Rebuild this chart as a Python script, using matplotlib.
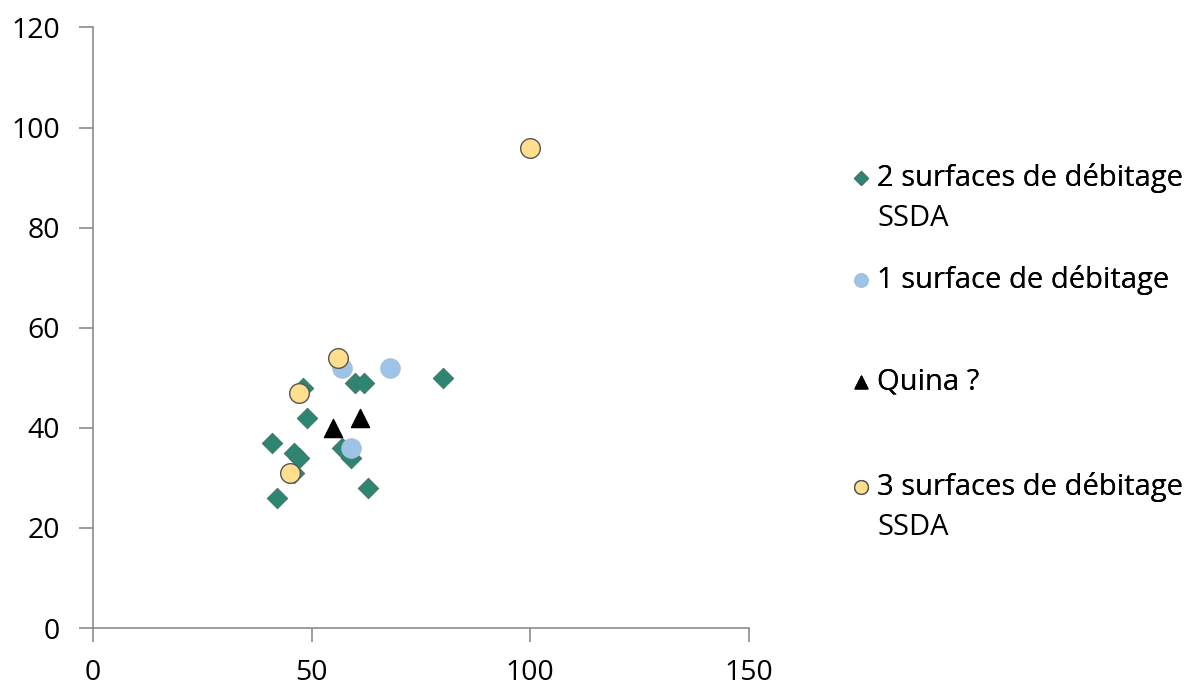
import matplotlib.pyplot as plt

plt.rcParams['font.family'] = ['Open Sans', 'DejaVu Sans']

two_x = [80, 60, 62, 48, 49, 41, 46, 47, 57, 59, 46, 63, 42]
two_y = [50, 49, 49, 48, 42, 37, 35, 34, 36, 34, 31, 28, 26]
one_x = [57, 68, 59]
one_y = [52, 52, 36]
quina_x = [55, 61]
quina_y = [40, 42]
three_x = [100, 56, 47, 45]
three_y = [96, 54, 47, 31]

labels = ['2 surfaces de débitage', '1 surface de débitage', 'Quina ?',
          '3 surfaces de débitage']
second_lines = ['SSDA', None, None, 'SSDA']

fig = plt.figure(figsize=(11.94, 6.86), dpi=100)
ax = fig.add_axes([0.078, 0.0845, 0.549, 0.8755])

h1 = ax.scatter(two_x, two_y, marker='D', s=110, c='#2E8572', edgecolors='#4a6e66', linewidths=0.6, zorder=3)
h2 = ax.scatter(one_x, one_y, marker='o', s=200, c='#9DC3E6', edgecolors='#a9bfd3', linewidths=0.6, zorder=3)
h3 = ax.scatter(quina_x, quina_y, marker='^', s=170, c='black', zorder=3)
h4 = ax.scatter(three_x, three_y, marker='o', s=200, c='#FFDF8E', edgecolors='#555555', linewidths=1.0, zorder=4)

ax.set_xlim(0, 150)
ax.set_ylim(0, 120)
ax.set_xticks([0, 50, 100, 150])
ax.set_yticks(range(0, 121, 20))
for side in ['top', 'right']:
    ax.spines[side].set_visible(False)
for side in ['left', 'bottom']:
    ax.spines[side].set_color('#8c8c8c')
    ax.spines[side].set_linewidth(1.2)
ax.tick_params(axis='both', colors='#8c8c8c', direction='out', length=10, width=1.2,
               labelsize=20.5, labelcolor='black')
ax.tick_params(axis='x', pad=12)
ax.tick_params(axis='y', pad=14)

# one legend per entry, placed like the original
centers = [0.7405, 0.592, 0.443, 0.290]
handles = [h1, h2, h3, h4]
for h, lab, extra, yy in zip(handles, labels, second_lines, centers):
    leg = fig.legend([h], [lab], loc='center left', bbox_to_anchor=(0.709, yy),
                     frameon=False, fontsize=21, handletextpad=0.05, markerscale=0.7,
                     borderaxespad=0, borderpad=0, handlelength=1.0)
    fig.add_artist(leg)
    if extra:
        fig.text(0.7353, yy - 0.0585, extra, fontsize=21, va='center', ha='left')

fig.savefig('out.png', dpi=100)
